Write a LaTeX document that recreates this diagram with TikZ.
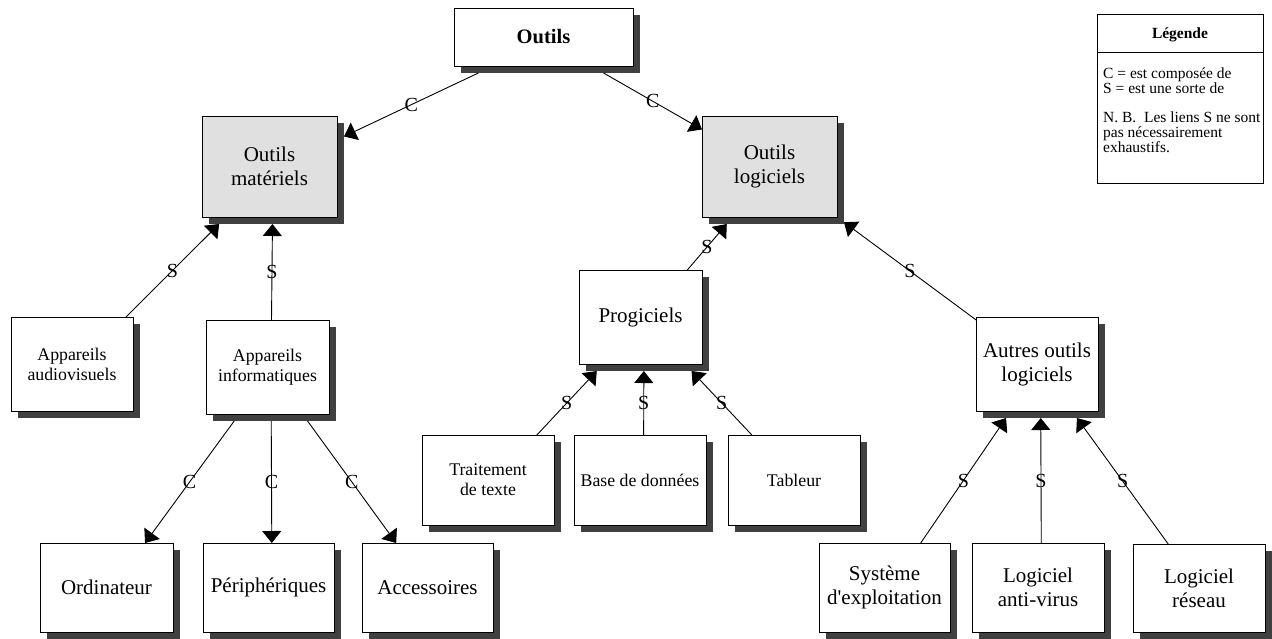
\documentclass[tikz,border=0pt]{standalone}
\usepackage{fontspec}
\setmainfont{Liberation Serif}
\newfontfamily\plainserif{Liberation Serif}[Ligatures=TeXOff]
\usetikzlibrary{arrows.meta}
\definecolor{shadowgray}{HTML}{404040}
\definecolor{boxgray}{HTML}{E0E0E0}
% #1 name, #2 x1, #3 y1, #4 x2, #5 y2 (pixels, y downwards), #6 style, #7 text
\newcommand\dbox[7]{%
  \pgfmathsetmacro\dbw{#4-#2}%
  \pgfmathsetmacro\dbh{#5-#3}%
  \pgfmathsetmacro\dbwh{#4-#2+7}%
  \pgfmathsetmacro\dbhh{#5-#3+7}%
  \pgfmathsetmacro\dbx{(#2+#4)/2}%
  \pgfmathsetmacro\dby{(#3+#5)/2}%
  \fill[shadowgray] (#2+7,#3+7) rectangle (#4+7,#5+7);%
  \node[boxbase,#6,minimum width=\dbw pt,minimum height=\dbh pt] (#1-b) at (\dbx,\dby) {#7};%
  \node[hull,minimum width=\dbwh pt,minimum height=\dbhh pt] (#1) at (\dbx+3.5,\dby+3.5) {};%
}
\begin{document}
\begin{tikzpicture}[x=1pt,y=-1pt,
  boxbase/.style={draw=black,line width=0.9pt,fill=white,align=center,inner sep=0pt,outer sep=0pt,rectangle},
  grayfill/.style={fill=boxgray},
  big/.style={font=\fontsize{21}{24}\selectfont},
  small/.style={font=\fontsize{17.8}{20}\selectfont},
  boldf/.style={font=\bfseries\fontsize{20.5}{23}\selectfont},
  hull/.style={draw=none,inner sep=0pt,outer sep=0pt,rectangle},
  conn/.style={line width=0.9pt,-{Triangle[length=12pt,width=19pt]}},
  lbl/.style={font=\fontsize{20}{22}\selectfont,inner sep=0pt,pos=0.5},
  legtxt/.style={font=\fontsize{15.5}{16}\selectfont,anchor=base west,inner sep=0pt}]
\useasboundingbox (0,0) rectangle (1272,638);
\fill[white] (0,0) rectangle (1272,638);

\dbox{outils}{454}{8}{633}{66}{boldf}{Outils}
\dbox{mat}{202}{116}{337}{217}{big,grayfill}{Outils\\matériels}
\dbox{log}{702}{116}{837}{217}{big,grayfill}{Outils\\logiciels}
\dbox{audio}{11}{317}{133}{411}{small}{Appareils\\audiovisuels}
\dbox{info}{206}{320}{329}{414}{small}{Appareils\\informatiques}
\dbox{prog}{579}{270}{702}{364}{big}{Progiciels}
\dbox{trait}{422}{435}{554}{525}{small}{Traitement\\de texte}
\dbox{bdd}{574}{435}{706}{525}{small}{Base de données}
\dbox{tab}{728}{435}{860}{525}{small}{Tableur}
\dbox{autres}{976}{317}{1098}{411}{big}{Autres outils\\logiciels}
\dbox{sys}{819}{543}{950}{632}{big}{Système\\{\plainserif d'exploitation}}
\dbox{av}{972}{543}{1104}{632}{big}{Logiciel\\anti-virus}
\dbox{res}{1133}{544}{1265}{632}{big}{Logiciel\\réseau}
\dbox{ord}{40}{543}{173}{632}{big}{Ordinateur}
\dbox{peri}{203}{543}{334}{632}{big}{Périphériques}
\dbox{acc}{362}{543}{493}{632}{big}{Accessoires}

\draw[conn] (outils) -- node[lbl]{C} (mat);
\draw[conn] (outils) -- node[lbl]{C} (log);
\draw[conn] (audio) -- node[lbl]{S} (mat);
\draw[conn] (info) -- node[lbl]{S} (mat);
\draw[conn] (info) -- node[lbl]{C} (ord);
\draw[conn] (info) -- node[lbl]{C} (peri);
\draw[conn] (info) -- node[lbl]{C} (acc);
\draw[conn] (prog) -- node[lbl]{S} (log);
\draw[conn] (autres) -- node[lbl]{S} (log);
\draw[conn] (trait) -- node[lbl]{S} (prog);
\draw[conn] (bdd) -- node[lbl]{S} (prog);
\draw[conn] (tab) -- node[lbl]{S} (prog);
\draw[conn] (sys) -- node[lbl]{S} (autres);
\draw[conn] (av) -- node[lbl]{S} (autres);
\draw[conn] (res) -- node[lbl]{S} (autres);

% Legend
\draw[line width=1pt] (1097,14) rectangle (1263,183);
\draw[line width=1pt] (1097,52) -- (1263,52);
\node[font=\bfseries\fontsize{15.5}{16}\selectfont,anchor=base,inner sep=0pt] (legtitle) at (1180,38) {Légende};
\node[legtxt] (leg1) at (1103,78) {C = est composée de};
\node[legtxt] (leg2) at (1103,93.5) {S = est une sorte de};
\node[legtxt] (leg3) at (1103,122) {N. B.\ \ Les liens S ne sont};
\node[legtxt] (leg4) at (1103,137) {pas nécessairement};
\node[legtxt] (leg5) at (1103,152) {exhaustifs.};
\end{tikzpicture}
\end{document}
